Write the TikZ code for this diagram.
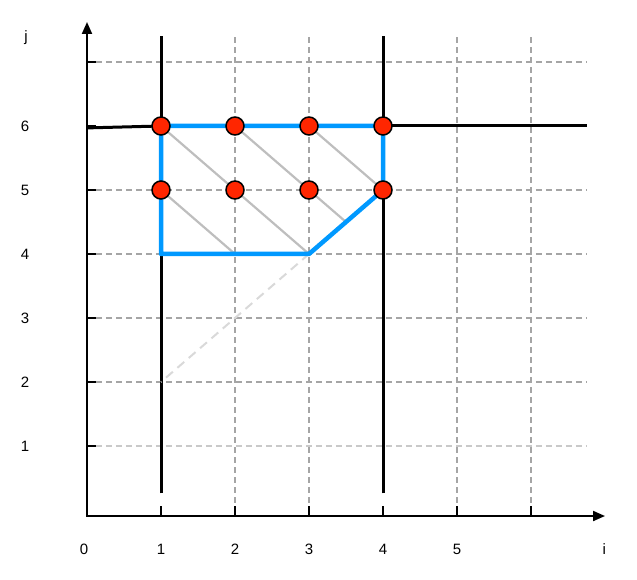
\documentclass[tikz,border=0pt]{standalone}
\usepackage{fontspec}
\setmainfont{Liberation Sans}
\usepackage{tikz}
\usetikzlibrary{arrows.meta, positioning, calc}
\definecolor{domblue}{RGB}{0,153,255}
\definecolor{ptred}{RGB}{255,38,0}
\definecolor{gridgray}{RGB}{165,165,165}
\definecolor{hatchgray}{RGB}{190,190,190}

\begin{document}
\begin{tikzpicture}[
			x=74pt, y=64pt,
			ax/.style={line width=2pt, black},
			tk/.style={line width=2pt, black},
			gr/.style={line width=1.5pt, gridgray, dash pattern=on 6pt off 4pt},
			bnd/.style={line width=3pt, black},
			dom/.style={line width=4.5pt, domblue, line join=round},
			hatch/.style={line width=2.2pt, hatchgray},
			ext/.style={line width=2pt, black!15, dash pattern=on 9pt off 6pt},
			pt/.style={circle, draw=black, line width=1.5pt, fill=ptred,
				minimum size=18pt, inner sep=0pt},
			lbl/.style={font=\fontsize{15}{18}\selectfont, inner sep=0pt}
			]
			\useasboundingbox (-1.1757,-1.09375) rectangle (7.4324,7.96875);
			% grid
			\foreach \j in {2,3,4,5,7}
			{\draw[tk] (0,\j) -- (0.12,\j); \draw[gr] (0.12,\j) -- (6.757,\j);}
			\draw[tk] (0,1) -- (0.12,1); \draw[gr, gridgray!60] (0.12,1) -- (6.757,1);
			\foreach \i in {2,3,5,6}
			{\draw[tk] (\i,-0.094) -- (\i,0.0625); \draw[gr] (\i,0.11) -- (\i,7.406);}
			\draw[tk] (0,6) -- (0.12,6);
			% bounds on i
			\foreach \i in {1,4}
			{\draw[tk] (\i,-0.094) -- (\i,0.0625); \draw[bnd] (\i,0.26) -- (\i,7.406);}
			% axes
			\coordinate (O) at (0,-0.094);
			\coordinate (xe) at (7,-0.094);
			\coordinate (ye) at (0,7.625);
			\draw[ax, {Triangle[length=12pt,width=10pt]}-{Triangle[length=12pt,width=10pt]}]
				(xe) -- (O) -- (ye);
			% grid points
			\foreach \i in {1,...,4}
			\foreach \j in {4,5,6} \coordinate (c\i\j) at (\i,\j);
			\coordinate (c12) at (1,2);
			\coordinate (cm) at (3.5,4.5);
			\coordinate (cl) at (0,5.97);
			\coordinate (cr) at (6.757,6);
			% bound on j
			\draw[bnd] (cl) -- (c16);
			\draw[bnd] (c46) -- (cr);
			% extension of the cut
			\draw[ext] (c34) -- (c12);
			% hatching
			\draw[hatch] (c16) -- (c34);
			\draw[hatch] (c26) -- (cm);
			\draw[hatch] (c36) -- (c45);
			\draw[hatch] (c15) -- (c24);
			% domain
			\draw[dom] (c16) -- (c46) -- (c45) -- (c34) -- (c14) -- cycle;
			% points
			\foreach \i in {1,...,4}
			\foreach \j in {5,6} \node[pt] (p\i\j) at (c\i\j) {};
			% labels
			\node[lbl] (lj) at (-0.824,7.375) {j};
			\foreach \j in {1,...,6} \node[lbl] (l\j) at (-0.838,\j) {\j};
			\node[lbl] (l0) at (-0.04,-0.61) {0};
			\foreach \i in {1,...,5} \node[lbl] (k\i) at (\i,-0.61) {\i};
			\node[lbl] (li) at (6.99,-0.61) {i};
	\end{tikzpicture}
\end{document}
